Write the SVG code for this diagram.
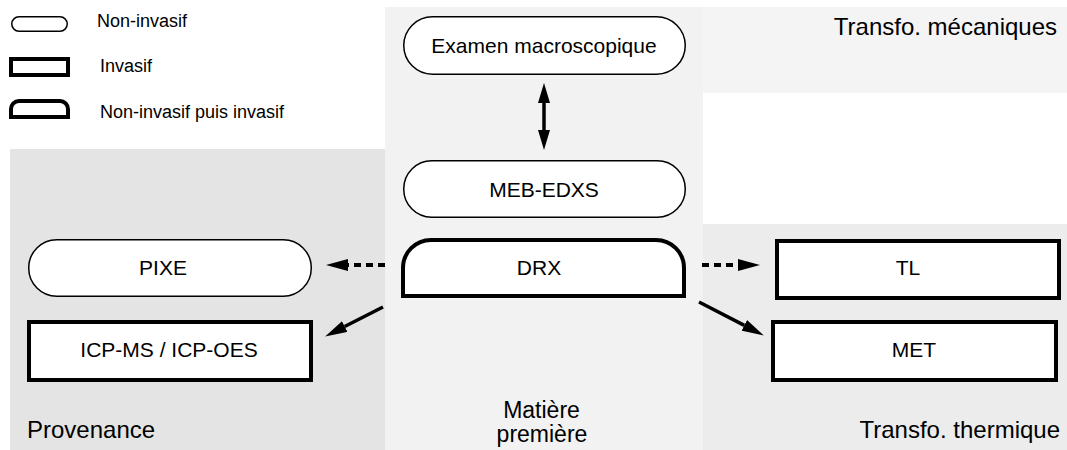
<svg xmlns="http://www.w3.org/2000/svg" width="1067" height="450" viewBox="0 0 1067 450">
<style>
text{font-family:"Liberation Sans",Arial,sans-serif;fill:#000}
.lg{font-size:18px}
.nd{font-size:21px;text-anchor:middle}
.rg{font-size:24px}
.soft{fill:#fff;stroke:#000;stroke-width:1.5}
.hard{fill:#fff;stroke:#000;stroke-width:4}
.cn{stroke:#000;stroke-width:3.5;fill:none}
.dash{stroke-dasharray:7 5;stroke-width:4}
</style>
<defs>
<marker id="ah" viewBox="0 0 22 12" refX="0" refY="6" markerWidth="22" markerHeight="12" markerUnits="userSpaceOnUse" orient="auto-start-reverse">
<path d="M0,0 L22,6 L0,12 Z" fill="#000"/>
</marker>
<marker id="ah2" viewBox="0 0 20 12" refX="0" refY="6" markerWidth="20" markerHeight="12" markerUnits="userSpaceOnUse" orient="auto-start-reverse">
<path d="M0,0 L20,6 L0,12 Z" fill="#000"/>
</marker>
</defs>
<rect width="1067" height="450" fill="#fff"/>
<g id="regions">
<rect x="10" y="149" width="375" height="301" fill="#e4e4e4"/>
<rect x="385" y="7" width="318" height="443" fill="#f2f2f2"/>
<rect x="703" y="7" width="364" height="86" fill="#f4f4f4"/>
<rect x="703" y="224" width="364" height="226" fill="#ececec"/>
<text class="rg" x="1057" y="35" text-anchor="end">Transfo. mécaniques</text>
<text class="rg" x="27" y="438">Provenance</text>
<text class="rg" x="1060" y="438" text-anchor="end">Transfo. thermique</text>
<text class="rg" x="541.5" y="418" text-anchor="middle" style="font-size:23px">Matière</text>
<text class="rg" x="542" y="442" text-anchor="middle" style="font-size:23px">première</text>
</g>
<g id="legend">
<rect class="soft" x="11.75" y="16.75" width="55.5" height="14.5" rx="7.25"/>
<text class="lg" x="97" y="27">Non-invasif</text>
<rect class="hard" x="11" y="59" width="57" height="16"/>
<text class="lg" x="100" y="72">Invasif</text>
<path class="hard" d="M11,117 L11,109 A8,8 0 0 1 19,101 L60,101 A8,8 0 0 1 68,109 L68,117 Z"/>
<text class="lg" x="100" y="118">Non-invasif puis invasif</text>
</g>
<g id="connectors">
<line class="cn" x1="544" y1="103" x2="544" y2="130" marker-start="url(#ah2)" marker-end="url(#ah2)"/>
<line class="cn dash" x1="385" y1="265" x2="348" y2="265" marker-end="url(#ah)"/>
<line class="cn dash" x1="702" y1="265" x2="738" y2="265" marker-end="url(#ah)"/>
<line class="cn" x1="383" y1="307" x2="344.7" y2="326.5" marker-end="url(#ah)"/>
<line class="cn" x1="699" y1="302" x2="744.3" y2="325.4" marker-end="url(#ah)"/>
</g>
<g id="examen">
<rect class="soft" x="403.75" y="16.75" width="281.5" height="57.5" rx="28.75"/>
<text class="nd" x="544" y="53">Examen macroscopique</text>
</g>
<g id="meb">
<rect class="soft" x="403.75" y="160.75" width="281.5" height="56.5" rx="28"/>
<text class="nd" x="544" y="197">MEB-EDXS</text>
</g>
<g id="drx">
<path class="hard" d="M403,296 L403,268 A28,28 0 0 1 431,240 L656,240 A28,28 0 0 1 684,268 L684,296 Z"/>
<text class="nd" x="539" y="275">DRX</text>
</g>
<g id="pixe">
<rect class="soft" x="28.75" y="239.75" width="282.5" height="56.5" rx="28"/>
<text class="nd" x="163" y="275">PIXE</text>
</g>
<g id="icp">
<rect class="hard" x="29" y="322" width="282" height="58"/>
<text class="nd" x="169" y="357">ICP-MS / ICP-OES</text>
</g>
<g id="tl">
<rect class="hard" x="777" y="241" width="282" height="57"/>
<text class="nd" x="908" y="275">TL</text>
</g>
<g id="met">
<rect class="hard" x="773" y="322" width="283" height="58"/>
<text class="nd" x="914" y="357">MET</text>
</g>
</svg>
